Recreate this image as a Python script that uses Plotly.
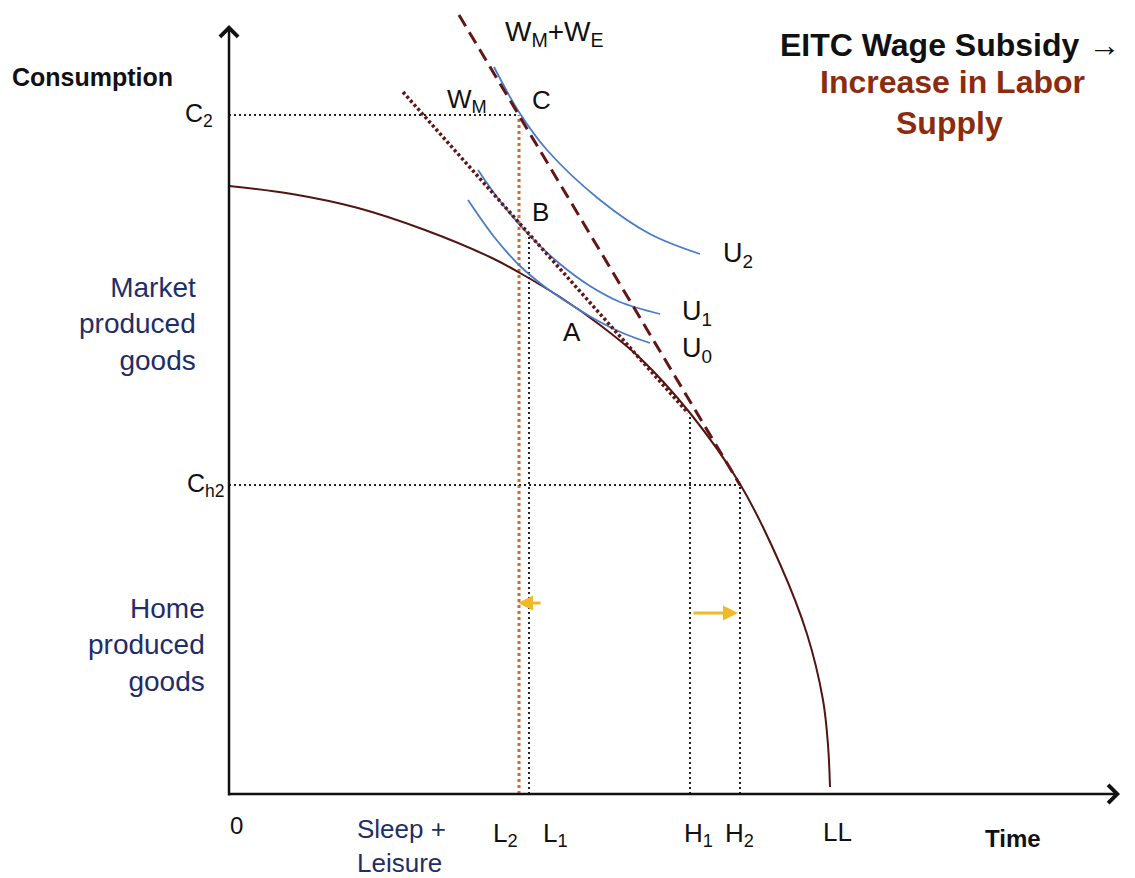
import plotly.graph_objects as go

# Diagram units: time along x (origin at the axes corner), consumption along y
FONT = "Arial, Liberation Sans, sans-serif"
NAVY = "#1F2E66"
BROWN_TXT = "#8B2C0F"
MAROON = "#621616"
PPF_COLOR = "#521510"
BLUE = "#4A7CC8"
ORANGE = "#D4692C"
YELLOW = "#F2B826"

# production possibility frontier (market vs home goods)
ppf_x = [0, 63, 129, 196, 263, 291, 331, 371, 411, 461, 511, 551, 578, 594, 599, 601]
ppf_y = [608, 600, 586, 564, 536, 521, 497, 469, 436, 381, 310, 230, 160, 94, 49, 7]

# indifference curves
u2_x = [265, 290, 318, 371, 421, 471]
u2_y = [727, 682, 644, 594, 560, 540]
u1_x = [249, 271, 300, 331, 361, 391, 431]
u1_y = [624, 593, 559, 530, 508, 492, 480]
u0_x = [239, 266, 291, 316, 341, 371, 396, 421]
u0_y = [594, 556, 528, 507, 490, 472, 460, 451]

# budget lines
wm_x = [174, 459]
wm_y = [702, 381]
wme_x = [230, 511]
wme_y = [779, 309]

# tick positions on the axes
time_ticks = {"L2": 290, "L1": 300, "H1": 461, "H2": 511, "LL": 601}
time_tops = {"L2": 679, "L1": 559, "H1": 379, "H2": 309}
cons_ticks = {"C2": 679, "Ch2": 309}
cons_ends = {"C2": 290, "Ch2": 511}

# shift arrows (tail x, head x, y)
shift_left = [313, 289, 191]
shift_right = [463, 509, 181]

fig = go.Figure()

# guide lines
for key in ["L1", "H1", "H2"]:
    fig.add_trace(go.Scatter(x=[time_ticks[key]] * 2, y=[0, time_tops[key]], mode="lines",
                             line=dict(color="#222222", width=2, dash="2px,3px")))
fig.add_trace(go.Scatter(x=[time_ticks["L2"]] * 2, y=[0, time_tops["L2"]], mode="lines",
                         line=dict(color=ORANGE, width=3, dash="3px,3px")))
for key in ["C2", "Ch2"]:
    fig.add_trace(go.Scatter(x=[0, cons_ends[key]], y=[cons_ticks[key]] * 2, mode="lines",
                             line=dict(color="#222222", width=2, dash="2px,3px")))

# frontier and indifference curves
fig.add_trace(go.Scatter(x=ppf_x, y=ppf_y, mode="lines", line=dict(color=PPF_COLOR, width=2, shape="spline")))
for cx, cy in [(u2_x, u2_y), (u1_x, u1_y), (u0_x, u0_y)]:
    fig.add_trace(go.Scatter(x=cx, y=cy, mode="lines", line=dict(color=BLUE, width=1.8, shape="spline")))

# wage lines
fig.add_trace(go.Scatter(x=wm_x, y=wm_y, mode="lines", line=dict(color=MAROON, width=3.5, dash="3px,2.5px")))
fig.add_trace(go.Scatter(x=wme_x, y=wme_y, mode="lines", line=dict(color=MAROON, width=3, dash="13px,7px")))

annotations = []
# axes with open arrowheads
annotations.append(dict(x=0, y=769, ax=0, ay=-3, xref="x", yref="y", axref="x", ayref="y",
                        showarrow=True, arrowhead=4, arrowsize=1.4, arrowwidth=2.5, arrowcolor="#111111", text=""))
annotations.append(dict(x=891, y=0, ax=-1, ay=0, xref="x", yref="y", axref="x", ayref="y",
                        showarrow=True, arrowhead=4, arrowsize=1.4, arrowwidth=2.5, arrowcolor="#111111", text=""))
# yellow shift arrows
for a in [shift_left, shift_right]:
    annotations.append(dict(x=a[1], y=a[2], ax=a[0], ay=a[2], xref="x", yref="y", axref="x", ayref="y",
                            showarrow=True, arrowhead=2, arrowsize=1, arrowwidth=3, arrowcolor=YELLOW, text=""))


def label(text, x, y, size=25, color="#111111", xanchor="center", bold=False, align="center"):
    annotations.append(dict(text=text, x=x, y=y, xref="x", yref="y", showarrow=False,
                            xanchor=xanchor, yanchor="middle", align=align,
                            font=dict(family=FONT, size=size, color=color,
                                      weight="bold" if bold else "normal")))


label("Consumption", -219, 717, size=25, xanchor="left", bold=True)
label("C<sub>2</sub>", -14, cons_ticks["C2"], size=25, xanchor="right")
label("C<sub>h2</sub>", -2, cons_ticks["Ch2"], size=25, xanchor="right")
label("Market<br>produced<br>goods", -31, 470, size=28, color=NAVY, xanchor="right", align="right")
label("Home<br>produced<br>goods", -22, 149, size=28, color=NAVY, xanchor="right", align="right")
label("0", 7, -31, size=24)
label("Sleep +<br>Leisure", 126, -52, size=26, color=NAVY, xanchor="left", align="left")
label("L<sub>2</sub>", 276, -40, size=26)
label("L<sub>1</sub>", 326, -40, size=26)
label("H<sub>1</sub>", 469, -40, size=26)
label("H<sub>2</sub>", 510, -40, size=26)
label("LL", 608, -38, size=26)
label("Time", 784, -44, size=24, bold=True)
label("W<sub>M</sub>+W<sub>E</sub>", 325, 761, size=28)
label("W<sub>M</sub>", 238, 694, size=26)
label("C", 312, 694, size=26)
label("B", 311, 582, size=26)
label("A", 343, 462, size=26)
label("U<sub>2</sub>", 509, 539, size=27)
label("U<sub>1</sub>", 468, 481, size=27)
label("U<sub>0</sub>", 468, 444, size=27)
label("EITC Wage Subsidy \u2192", 721, 749, size=32, bold=True)
label("Increase in Labor", 723, 712, size=32, color=BROWN_TXT, bold=True)
label("Supply", 720, 671, size=32, color=BROWN_TXT, bold=True)

# the page body has an 8px margin, so the figure is 8px smaller than the window
fig.update_layout(
    width=1127, height=870,
    margin=dict(l=0, r=0, t=0, b=0),
    font=dict(family=FONT, size=25, color="#111111"),
    paper_bgcolor="white", plot_bgcolor="white",
    showlegend=False,
    xaxis=dict(range=[-221, 906], visible=False, fixedrange=True),
    yaxis=dict(range=[-84, 786], visible=False, fixedrange=True),
    annotations=annotations,
)

fig.write_html("out.html")
